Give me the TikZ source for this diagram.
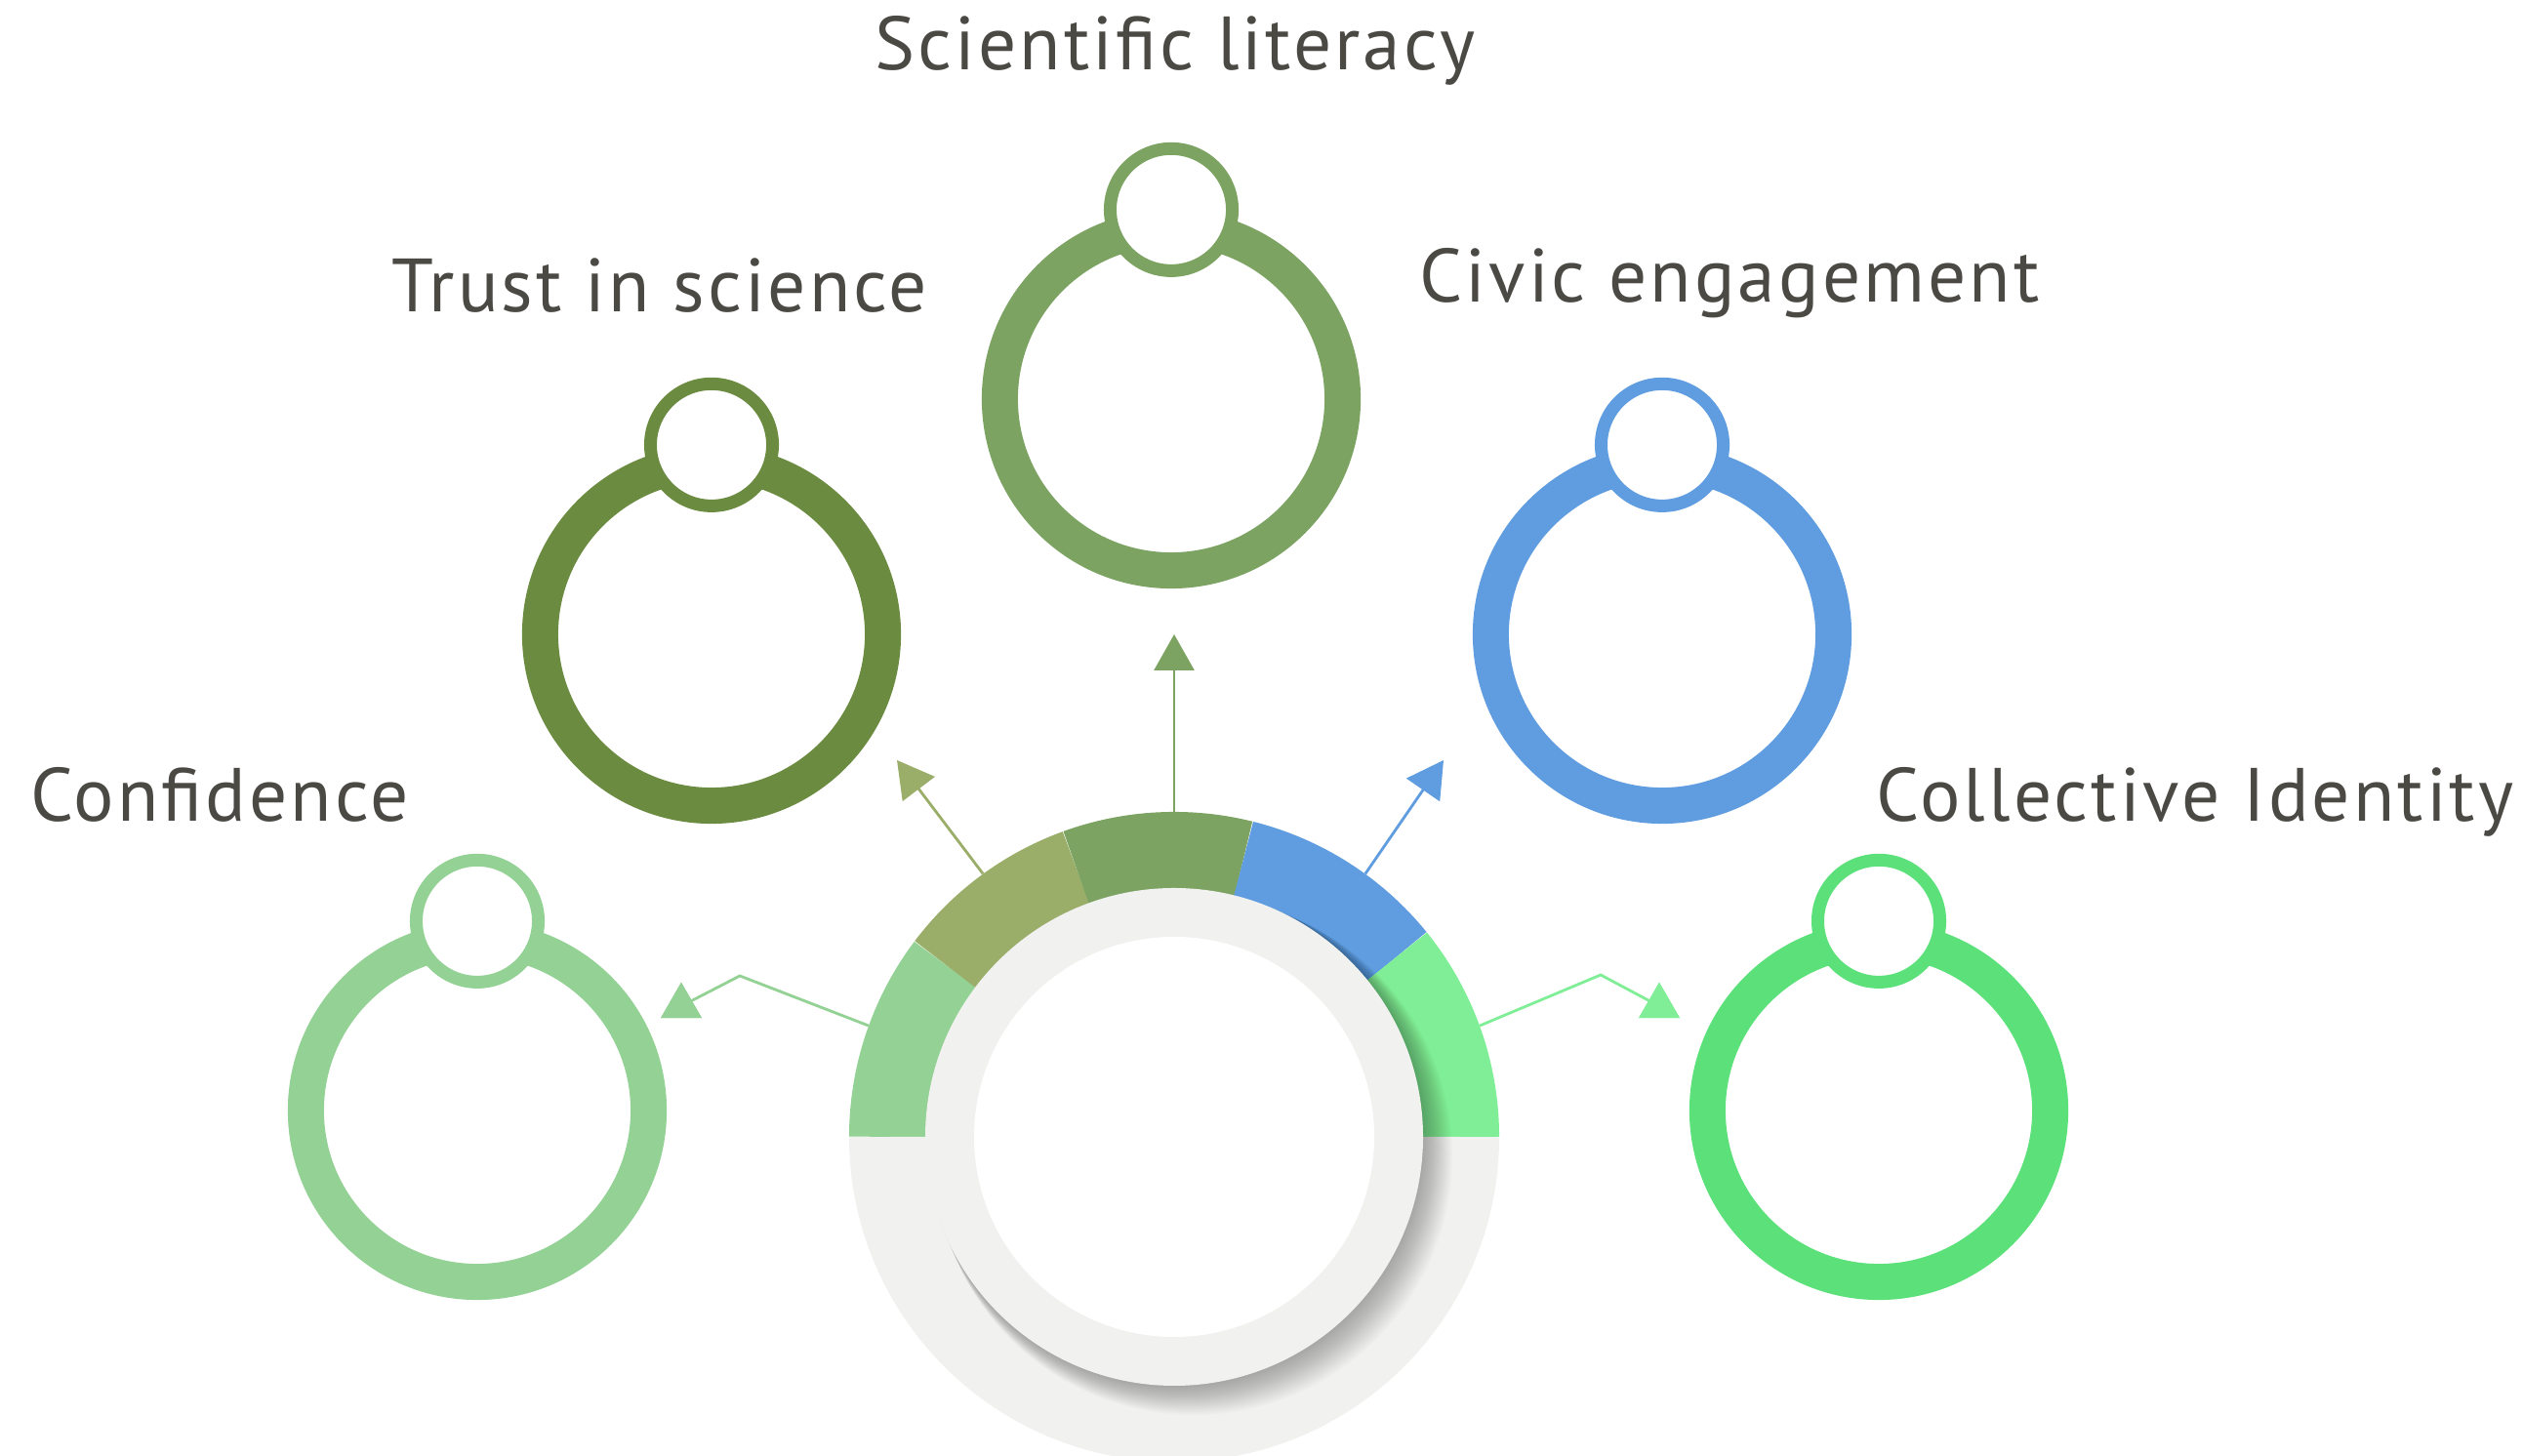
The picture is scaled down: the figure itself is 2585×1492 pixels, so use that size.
\documentclass[tikz,border=0pt]{standalone}
\usepackage{fontspec}
\setmainfont{PT Sans}[LetterSpace=4]
\usetikzlibrary{positioning,arrows.meta,shapes.geometric}
\definecolor{confgreen}{RGB}{147,209,148}
\definecolor{olivegreen}{RGB}{154,174,106}
\definecolor{trustgreen}{RGB}{107,140,64}
\definecolor{scigreen}{RGB}{125,163,99}
\definecolor{civicblue}{RGB}{95,157,224}
\definecolor{collgreen}{RGB}{128,238,150}
\definecolor{collring}{RGB}{92,224,122}
\definecolor{plategray}{RGB}{241,241,239}
\definecolor{inkgray}{RGB}{75,73,68}

\begin{document}
\begin{tikzpicture}[
    x=0.01cm, y=0.01cm,
    ring/.style={circle, draw, line width=0.37cm, minimum size=3.51cm, inner sep=0pt},
    knob/.style={circle, draw, fill=white, line width=0.13cm, minimum size=1.25cm, inner sep=0pt},
    topic/.style={font=\fontsize{22}{27}\selectfont, text=inkgray, anchor=base, inner sep=0pt},
    link/.style={line width=0.8pt},
    tip/.style={-{Triangle[length=0.37cm, width=0.41cm]}},
    marker/.style={regular polygon, regular polygon sides=3, minimum size=0.485cm, inner sep=0pt}
  ]

\useasboundingbox (0,0) rectangle (2585,1492);

% hub
\node[circle, minimum size=6.66cm, inner sep=0pt, outer sep=0pt] (hub) at (1203,327) {};
\foreach \a/\b/\c in {180/143/confgreen, 143/110/olivegreen, 110/76/scigreen, 76/39/civicblue, 39/0/collgreen, 360/180/plategray}
  \draw[\c, line width=0.88cm] (hub.center) ++(\a:289) arc[start angle=\a, end angle=\b, radius=289];
\foreach \i in {1,...,20}
  \fill[black, opacity=0.016] ({1203+1.0*\i},{327-1.0*\i}) circle[radius={255+0.5*\i}];
\fill[plategray] (hub.center) circle[radius=255];
\fill[white] (hub.center) circle[radius=205];

% satellites
\node[ring, confgreen] (conf) at (489,354) {};
\node[ring, trustgreen] (trust) at (729,842) {};
\node[ring, scigreen] (sci) at (1200,1083) {};
\node[ring, civicblue] (civic) at (1703,842) {};
\node[ring, collring] (coll) at (1925,354) {};
\foreach \s/\c in {conf/confgreen, trust/trustgreen, sci/scigreen, civic/civicblue, coll/collring}
  \node[knob, draw=\c] (\s-knob) at (\s.north) {};

% labels
\node[topic] (conf-text) at (225,650) {Confidence};
\node[topic] (trust-text) at (676,1172) {Trust in science};
\node[topic] (sci-text) at (1204,1420) {Scientific literacy};
\node[topic] (civic-text) at (1772,1182) {Civic engagement};
\node[topic] (coll-text) at (2249,650) {Collective Identity};

% connectors
\coordinate (conf-bend) at (758,492);
\coordinate (coll-bend) at (1640,493);
\node[marker, fill=confgreen] (conf-tip) at (698,461) {};
\node[marker, fill=collgreen] (coll-tip) at (1700,461) {};
\draw[link, confgreen] (hub.160) -- (conf-bend) -- (conf-tip.center);
\draw[link, collgreen] (hub.20) -- (coll-bend) -- (coll-tip.center);
\node[marker, fill=confgreen] at (conf-tip) {};
\node[marker, fill=collgreen] at (coll-tip) {};
\coordinate (trust-end) at (919,713);
\coordinate (sci-end) at (1203,842);
\coordinate (civic-end) at (1479,713);
\draw[link, tip, olivegreen] (hub.126) -- (trust-end);
\draw[link, tip, scigreen] (hub.90) -- (sci-end);
\draw[link, tip, civicblue] (hub.54) -- (civic-end);

\end{tikzpicture}
\end{document}
